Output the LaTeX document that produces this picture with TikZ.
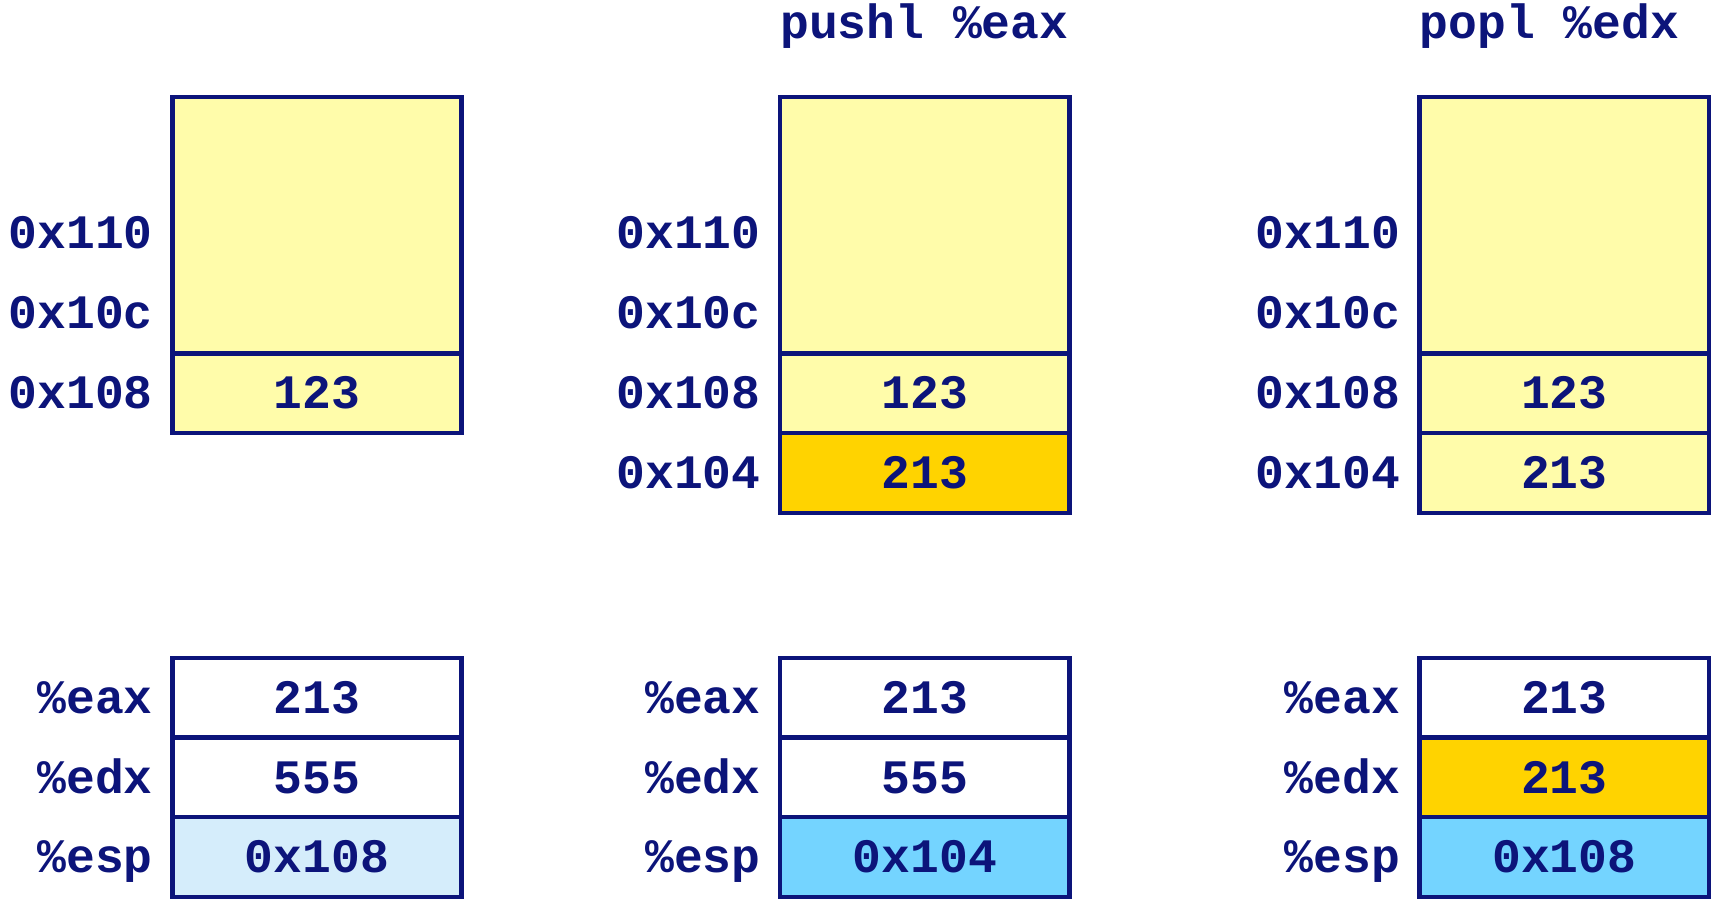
\documentclass[tikz,border=0pt]{standalone}
\usepackage{fontspec}
\newfontfamily\codefont{Liberation Mono}
\definecolor{navy}{RGB}{12,20,122}
\definecolor{memfill}{RGB}{255,252,170}
\definecolor{gold}{RGB}{255,211,0}
\definecolor{paleblue}{RGB}{213,237,251}
\definecolor{brightblue}{RGB}{116,212,255}
\begin{document}
\begin{tikzpicture}[x=0.5pt,y=-0.5pt,
  every node/.style={font=\codefont\bfseries\fontsize{22}{26}\selectfont, text=navy,
    inner sep=0pt, outer sep=0pt, text height=14.3pt, text depth=0pt},
  cellbox/.style={draw=navy, line width=2pt, minimum width=132.5pt, minimum height=36.5pt},
  bigbox/.style={cellbox, fill=memfill, minimum height=117.5pt},
  mem/.style={cellbox, fill=memfill},
  reg/.style={cellbox, fill=white},
  lbl/.style={anchor=east},
  ttl/.style={anchor=west}]
\useasboundingbox (0,0) rectangle (1568,824);

% ---------- column 1 ----------
\node[bigbox] (m1top) at (290.5,206.5) {};
\node[mem] (m1a) at (290.5,360.5) {123};
\node[lbl] (l1a) at (140,213.5) {0x110};
\node[lbl] (l1b) at (140,287) {0x10c};
\node[lbl] (l1c) at (140,360.5) {0x108};
\node[reg] (r1eax) at (290.5,639.5) {213};
\node[reg] (r1edx) at (290.5,712.5) {555};
\node[reg, fill=paleblue] (r1esp) at (290.5,785.5) {0x108};
\node[lbl] (g1a) at (140,639.5) {\%eax};
\node[lbl] (g1b) at (140,712.5) {\%edx};
\node[lbl] (g1c) at (140,785.5) {\%esp};

% ---------- column 2 ----------
\node[ttl] (t2) at (715,21) {pushl \%eax};
\node[bigbox] (m2top) at (847.5,206.5) {};
\node[mem] (m2a) at (847.5,360.5) {123};
\node[mem, fill=gold] (m2b) at (847.5,433.5) {213};
\node[lbl] (l2a) at (697,213.5) {0x110};
\node[lbl] (l2b) at (697,287) {0x10c};
\node[lbl] (l2c) at (697,360.5) {0x108};
\node[lbl] (l2d) at (697,433.5) {0x104};
\node[reg] (r2eax) at (847.5,639.5) {213};
\node[reg] (r2edx) at (847.5,712.5) {555};
\node[reg, fill=brightblue] (r2esp) at (847.5,785.5) {0x104};
\node[lbl] (g2a) at (697,639.5) {\%eax};
\node[lbl] (g2b) at (697,712.5) {\%edx};
\node[lbl] (g2c) at (697,785.5) {\%esp};

% ---------- column 3 ----------
\node[ttl] (t3) at (1301,21) {popl \%edx};
\node[bigbox] (m3top) at (1433.5,206.5) {};
\node[mem] (m3a) at (1433.5,360.5) {123};
\node[mem] (m3b) at (1433.5,433.5) {213};
\node[lbl] (l3a) at (1283,213.5) {0x110};
\node[lbl] (l3b) at (1283,287) {0x10c};
\node[lbl] (l3c) at (1283,360.5) {0x108};
\node[lbl] (l3d) at (1283,433.5) {0x104};
\node[reg] (r3eax) at (1433.5,639.5) {213};
\node[reg, fill=gold] (r3edx) at (1433.5,712.5) {213};
\node[reg, fill=brightblue] (r3esp) at (1433.5,785.5) {0x108};
\node[lbl] (g3a) at (1283,639.5) {\%eax};
\node[lbl] (g3b) at (1283,712.5) {\%edx};
\node[lbl] (g3c) at (1283,785.5) {\%esp};
\end{tikzpicture}
\end{document}
